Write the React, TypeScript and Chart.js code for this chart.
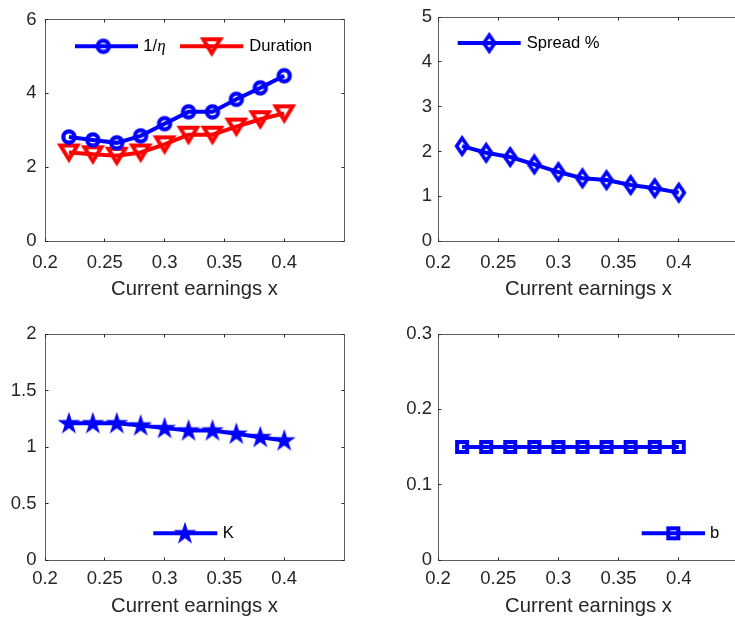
import React, { useEffect, useRef } from 'react';
import { Chart, registerables } from 'chart.js';
Chart.register(...registerables);

// ---------------- data ----------------
const xValues = [0.22, 0.24, 0.26, 0.28, 0.30, 0.32, 0.34, 0.36, 0.38, 0.40];
const invEta = [2.82, 2.74, 2.66, 2.85, 3.18, 3.50, 3.50, 3.84, 4.15, 4.48];
const duration = [2.40, 2.35, 2.31, 2.40, 2.62, 2.88, 2.88, 3.10, 3.30, 3.46];
const spread = [2.12, 1.97, 1.875, 1.71, 1.54, 1.40, 1.36, 1.25, 1.18, 1.08];
const kValues = [1.21, 1.21, 1.21, 1.19, 1.167, 1.146, 1.146, 1.117, 1.087, 1.058];
const bValues = [0.15, 0.15, 0.15, 0.15, 0.15, 0.15, 0.15, 0.15, 0.15, 0.15];

const xTicks = [0.2, 0.25, 0.3, 0.35, 0.4];
const xTickLabels = ['0.2', '0.25', '0.3', '0.35', '0.4'];
const yTicksA = [0, 2, 4, 6];
const yTickLabelsA = ['0', '2', '4', '6'];
const yTicksB = [0, 1, 2, 3, 4, 5];
const yTickLabelsB = ['0', '1', '2', '3', '4', '5'];
const yTicksC = [0, 0.5, 1, 1.5, 2];
const yTickLabelsC = ['0', '0.5', '1', '1.5', '2'];
const yTicksD = [0, 0.1, 0.2, 0.3];
const yTickLabelsD = ['0', '0.1', '0.2', '0.3'];
const xTitle = 'Current earnings x';

const BLUE = '#0000ff';
const RED = '#ff0000';
const FONT = '"Liberation Sans", Arial, Helvetica, sans-serif';
const TEXT = '#262626';

// ---------------- markers ----------------
function mk(w: number, h: number, draw: (c: CanvasRenderingContext2D) => void) {
  const c = document.createElement('canvas');
  c.width = w; c.height = h;
  const ctx = c.getContext('2d')!;
  draw(ctx);
  return c;
}
function circleMarker(color: string) {
  return mk(18, 18, (c) => {
    c.strokeStyle = color; c.lineWidth = 4.2;
    c.beginPath(); c.arc(9, 9, 5.6, 0, Math.PI * 2); c.stroke();
  });
}
function triDownMarker(color: string) {
  return mk(28, 26, (c) => {
    c.strokeStyle = color; c.lineWidth = 4; c.lineJoin = 'miter';
    c.beginPath(); c.moveTo(14 - 8.5, 13 - 7); c.lineTo(14 + 8.5, 13 - 7); c.lineTo(14, 13 + 7); c.closePath(); c.stroke();
  });
}
function diamondMarker(color: string) {
  return mk(20, 24, (c) => {
    c.strokeStyle = color; c.lineWidth = 3.6; c.lineJoin = 'miter';
    c.beginPath(); c.moveTo(10, 4); c.lineTo(15.5, 12); c.lineTo(10, 20); c.lineTo(4.5, 12); c.closePath(); c.stroke();
  });
}
function starMarker(color: string) {
  return mk(28, 28, (c) => {
    c.fillStyle = color;
    const R = 12, r = R * 0.382, cx = 14, cy = 14.5;
    c.beginPath();
    for (let i = 0; i < 10; i++) {
      const rad = i % 2 === 0 ? R : r;
      const a = -Math.PI / 2 + (i * Math.PI) / 5;
      const px = cx + rad * Math.cos(a), py = cy + rad * Math.sin(a);
      if (i === 0) c.moveTo(px, py); else c.lineTo(px, py);
    }
    c.closePath(); c.fill();
  });
}
function squareMarker(color: string) {
  return mk(18, 18, (c) => {
    c.strokeStyle = color; c.lineWidth = 4;
    c.strokeRect(4, 4, 10, 10);
  });
}

// ---------------- decoration plugin (box, inward ticks, legend) ----------------
const decorPlugin = {
  id: 'decor',
  beforeDatasetsDraw(chart: any) {
    const { ctx, chartArea: a, scales } = chart;
    const L = Math.floor(a.left) + 0.5, R = Math.floor(a.right) + 0.5;
    const T = Math.floor(a.top) + 0.5, B = Math.floor(a.bottom) + 0.5;
    ctx.save();
    ctx.strokeStyle = '#5e5e5e';
    ctx.lineWidth = 1;
    ctx.beginPath();
    ctx.moveTo(L, T); ctx.lineTo(R, T); ctx.lineTo(R, B); ctx.lineTo(L, B); ctx.closePath();
    ctx.stroke();
    ctx.strokeStyle = '#262626';
    ctx.beginPath();
    scales.x.ticks.forEach((t: any) => {
      const px = Math.floor(scales.x.getPixelForValue(t.value)) + 0.5;
      ctx.moveTo(px, B); ctx.lineTo(px, B - 3);
      ctx.moveTo(px, T); ctx.lineTo(px, T + 3);
    });
    scales.y.ticks.forEach((t: any) => {
      const py = Math.floor(scales.y.getPixelForValue(t.value)) + 0.5;
      ctx.moveTo(L, py); ctx.lineTo(L + 3, py);
      ctx.moveTo(R, py); ctx.lineTo(R - 3, py);
    });
    ctx.stroke();
    ctx.restore();
  },
  afterDraw(chart: any) {
    const items = chart.options.plugins.decor?.items || [];
    const { ctx, chartArea: a } = chart;
    ctx.save();
    items.forEach((it: any) => {
      const y = a.top + it.y;
      ctx.strokeStyle = it.color; ctx.lineWidth = 4; ctx.lineCap = 'butt';
      ctx.beginPath(); ctx.moveTo(a.left + it.x1, y); ctx.lineTo(a.left + it.x2, y); ctx.stroke();
      const m = it.marker;
      ctx.drawImage(m, a.left + it.mx - m.width / 2, y - m.height / 2);
      ctx.fillStyle = '#000';
      ctx.textBaseline = 'middle';
      ctx.textAlign = 'left';
      let tx = a.left + it.tx;
      it.parts.forEach((p: any) => {
        ctx.font = p.font;
        ctx.fillText(p.text, tx, y);
        tx += ctx.measureText(p.text).width;
      });
    });
    ctx.restore();
  },
};

// ---------------- chart builder ----------------
function buildChart(canvas: HTMLCanvasElement, p: any) {
  const W = canvas.width, H = canvas.height;
  const ar = p.area;
  const tickFont = { family: FONT, size: 18.5 };
  const titleFont = { family: FONT, size: 20.3 };
  return new Chart(canvas, {
    type: 'line',
    data: {
      datasets: p.series.map((s: any) => ({
        label: s.label,
        data: xValues.map((x, i) => ({ x, y: s.values[i] })),
        borderColor: s.color,
        backgroundColor: s.color,
        borderWidth: 4,
        pointStyle: s.marker,
        pointRadius: 6,
        pointHoverRadius: 6,
        tension: 0,
        fill: false,
      })),
    },
    options: {
      responsive: false,
      animation: false,
      events: [],
      layout: { padding: { left: 0, top: ar.T, right: W - ar.R, bottom: 0 } },
      plugins: {
        legend: { display: false },
        tooltip: { enabled: false },
        decor: { items: p.legend },
      } as any,
      scales: {
        x: {
          type: 'linear',
          min: 0.2,
          max: 0.45,
          afterBuildTicks: (s: any) => { s.ticks = xTicks.map((v) => ({ value: v })); },
          afterFit: (s: any) => { s.height = H - ar.B; },
          ticks: {
            callback: (_v: any, i: number) => xTickLabels[i],
            font: tickFont, color: TEXT, padding: p.xPad, maxRotation: 0, autoSkip: false,
          },
          grid: { display: false, drawTicks: false },
          border: { display: false },
          title: { display: true, text: xTitle, font: titleFont, color: TEXT, padding: { top: 0, bottom: p.titlePad } },
        },
        y: {
          type: 'linear',
          min: p.yMin,
          max: p.yMax,
          afterBuildTicks: (s: any) => { s.ticks = p.yTicks.map((v: number) => ({ value: v })); },
          afterFit: (s: any) => { s.width = ar.L; },
          ticks: {
            callback: (_v: any, i: number) => p.yLabels[i],
            font: tickFont, color: TEXT, padding: p.yPad,
          },
          grid: { display: false, drawTicks: false },
          border: { display: false },
        },
      },
    } as any,
    plugins: [decorPlugin as any],
  });
}

const LEG = `16.6px ${FONT}`;
const LEG_IT = `italic 17px "Liberation Serif", "DejaVu Serif", serif`;

export default function App() {
  const r1 = useRef<HTMLCanvasElement>(null);
  const r2 = useRef<HTMLCanvasElement>(null);
  const r3 = useRef<HTMLCanvasElement>(null);
  const r4 = useRef<HTMLCanvasElement>(null);

  useEffect(() => {
    const mCircle = circleMarker(BLUE);
    const mTri = triDownMarker(RED);
    const mDia = diamondMarker(BLUE);
    const mStar = starMarker(BLUE);
    const mSq = squareMarker(BLUE);

    const panels = [
      {
        ref: r1,
        area: { L: 45, T: 15, R: 344, B: 241 },
        xPad: 10.4, titlePad: 10.8, yPad: 8.5,
        yMin: 0, yMax: 6, yTicks: yTicksA, yLabels: yTickLabelsA,
        series: [
          { label: '1/η', values: invEta, color: BLUE, marker: mCircle },
          { label: 'Duration', values: duration, color: RED, marker: mTri },
        ],
        legend: [
          { color: BLUE, marker: mCircle, x1: 30, x2: 93, mx: 58.3, y: 26.7, tx: 98.3,
            parts: [{ text: '1/', font: LEG }, { text: 'η', font: LEG_IT }] },
          { color: RED, marker: mTri, x1: 135, x2: 198.3, mx: 166.7, y: 26.7, tx: 204.3,
            parts: [{ text: 'Duration', font: LEG }] },
        ],
      },
      {
        ref: r2,
        area: { L: 68, T: 15, R: 369, B: 241 },
        xPad: 10.4, titlePad: 10.8, yPad: 6,
        yMin: 0, yMax: 5, yTicks: yTicksB, yLabels: yTickLabelsB,
        series: [{ label: 'Spread %', values: spread, color: BLUE, marker: mDia }],
        legend: [
          { color: BLUE, marker: mDia, x1: 19.7, x2: 82.7, mx: 51.3, y: 26, tx: 88.7,
            parts: [{ text: 'Spread %', font: LEG }] },
        ],
      },
      {
        ref: r3,
        area: { L: 45, T: 22, R: 344, B: 248 },
        xPad: 7.4, titlePad: 6.8, yPad: 8.5,
        yMin: 0, yMax: 2, yTicks: yTicksC, yLabels: yTickLabelsC,
        series: [{ label: 'K', values: kValues, color: BLUE, marker: mStar }],
        legend: [
          { color: BLUE, marker: mStar, x1: 108.3, x2: 172.3, mx: 140, y: 199.3, tx: 177.7,
            parts: [{ text: 'K', font: LEG }] },
        ],
      },
      {
        ref: r4,
        area: { L: 68, T: 22, R: 369, B: 248 },
        xPad: 7.4, titlePad: 6.8, yPad: 6,
        yMin: 0, yMax: 0.3, yTicks: yTicksD, yLabels: yTickLabelsD,
        series: [{ label: 'b', values: bValues, color: BLUE, marker: mSq }],
        legend: [
          { color: BLUE, marker: mSq, x1: 203.7, x2: 267, mx: 235.3, y: 199.3, tx: 272,
            parts: [{ text: 'b', font: LEG }] },
        ],
      },
    ];
    const charts = panels.map((p) => buildChart(p.ref.current!, p));
    return () => charts.forEach((c) => c.destroy());
  }, []);

  const cs = (left: number, top: number): React.CSSProperties => ({ position: 'absolute', left, top, display: 'block' });

  return (
    <div style={{ position: 'fixed', left: 0, top: 0, width: 735, height: 625, overflow: 'hidden', background: '#fff' }}>
      <canvas ref={r1} width={370} height={312} style={cs(0, 0)} />
      <canvas ref={r2} width={380} height={312} style={cs(370, 0)} />
      <canvas ref={r3} width={370} height={313} style={cs(0, 312)} />
      <canvas ref={r4} width={380} height={313} style={cs(370, 312)} />
    </div>
  );
}
